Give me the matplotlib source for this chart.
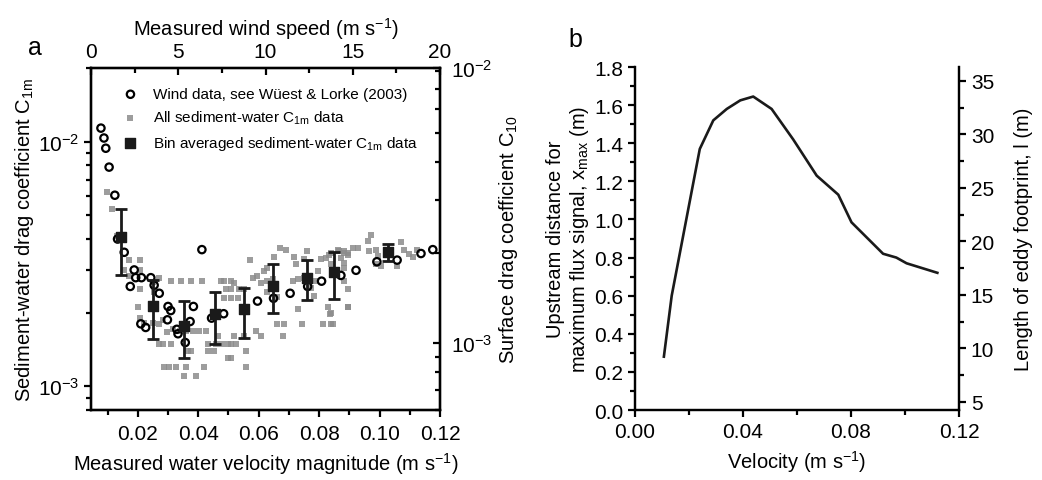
import matplotlib
matplotlib.use("Agg")
import matplotlib.pyplot as plt
from matplotlib.ticker import MultipleLocator, LogLocator, NullFormatter
import numpy as np

plt.rcParams['font.family'] = ['Liberation Sans', 'DejaVu Sans']
plt.rcParams['mathtext.default'] = 'regular'
plt.rcParams['axes.linewidth'] = 1.6

# ---- panel a: sediment-water drag coefficient data ----
# all sediment-water C1m data (velocity m/s, C1m)
all_v = [0.0097, 0.0113, 0.0131, 0.0171, 0.0208, 0.0155, 0.0171, 0.0208, 0.0208,
         0.0249, 0.0271, 0.0255, 0.0309, 0.0342, 0.0376, 0.0414,
         0.0201, 0.0208, 0.0221, 0.0249, 0.0271, 0.0282, 0.0271, 0.0282, 0.0309,
         0.0298, 0.0315, 0.0340, 0.0359, 0.0381, 0.0403, 0.0425,
         0.0365, 0.0376, 0.0431, 0.0453, 0.0287, 0.0304, 0.0326, 0.0359, 0.0420,
         0.0354, 0.0392, 0.0497, 0.0508, 0.0431, 0.0458, 0.0480, 0.0497, 0.0508, 0.0525,
         0.0464, 0.0519, 0.0552, 0.0475, 0.0486, 0.0508, 0.0519,
         0.0491, 0.0508, 0.0536, 0.0552, 0.0486, 0.0508, 0.0530,
         0.0580, 0.0596, 0.0618, 0.0629, 0.0572, 0.0591, 0.0607,
         0.0662, 0.0679, 0.0685, 0.0558, 0.0558, 0.0607, 0.0629, 0.0646,
         0.0671, 0.0690, 0.0649, 0.0629, 0.0662, 0.0712, 0.0729, 0.0751,
         0.0718, 0.0723, 0.0751, 0.0760, 0.0729, 0.0742,
         0.0773, 0.0782, 0.0790, 0.0795, 0.0806, 0.0823, 0.0834, 0.0839, 0.0867, 0.0883, 0.0894,
         0.0812, 0.0839, 0.0828, 0.0837, 0.0894,
         0.0839, 0.0861, 0.0872, 0.0883, 0.0894, 0.0883, 0.0883, 0.0883, 0.0894, 0.0894,
         0.0839, 0.0845, 0.0911, 0.0927, 0.0960, 0.0971, 0.0964, 0.0988, 0.0994,
         0.1005, 0.1058, 0.1071, 0.1082, 0.1098, 0.1109, 0.1124, 0.0988]
all_c = [6.2e-3, 5.3e-3, 4.1e-3, 3.28e-3, 3.28e-3, 3.0e-3, 2.82e-3, 3.0e-3, 2.51e-3,
         2.67e-3, 2.78e-3, 2.42e-3, 2.69e-3, 2.69e-3, 2.69e-3, 2.69e-3,
         2.10e-3, 1.91e-3, 1.82e-3, 1.82e-3, 1.80e-3, 1.86e-3, 1.49e-3, 1.49e-3, 1.49e-3,
         1.66e-3, 1.71e-3, 1.69e-3, 1.69e-3, 1.69e-3, 1.69e-3, 1.69e-3,
         1.40e-3, 1.40e-3, 1.40e-3, 1.40e-3, 1.20e-3, 1.20e-3, 1.20e-3, 1.20e-3, 1.20e-3,
         1.10e-3, 1.10e-3, 1.30e-3, 1.30e-3, 1.49e-3, 1.49e-3, 1.49e-3, 1.49e-3, 1.49e-3, 1.49e-3,
         1.61e-3, 1.61e-3, 1.61e-3, 2.69e-3, 2.69e-3, 2.69e-3, 2.65e-3,
         2.51e-3, 2.51e-3, 2.51e-3, 2.51e-3, 2.29e-3, 2.29e-3, 2.29e-3,
         2.78e-3, 2.82e-3, 2.96e-3, 3.05e-3, 3.28e-3, 1.69e-3, 1.61e-3,
         1.80e-3, 1.61e-3, 1.80e-3, 1.40e-3, 1.20e-3, 2.65e-3, 2.69e-3, 2.74e-3,
         3.67e-3, 3.60e-3, 3.38e-3, 2.42e-3, 2.31e-3, 2.69e-3, 2.74e-3, 2.78e-3,
         3.38e-3, 3.15e-3, 3.30e-3, 3.56e-3, 2.07e-3, 1.80e-3,
         2.53e-3, 2.34e-3, 2.69e-3, 2.96e-3, 3.30e-3, 3.35e-3, 3.45e-3, 3.15e-3, 3.56e-3, 3.51e-3, 3.45e-3,
         1.80e-3, 1.80e-3, 2.10e-3, 1.97e-3, 2.10e-3,
         3.51e-3, 3.62e-3, 3.35e-3, 3.56e-3, 3.51e-3, 3.20e-3, 3.05e-3, 2.69e-3, 2.49e-3, 2.10e-3,
         2.00e-3, 1.80e-3, 3.67e-3, 3.67e-3, 3.91e-3, 4.16e-3, 3.59e-3, 3.62e-3, 3.40e-3,
         3.10e-3, 3.10e-3, 3.88e-3, 3.60e-3, 3.48e-3, 3.38e-3, 3.60e-3, 3.15e-3]

# wind data (Wuest & Lorke 2003), shown in C1m / water velocity coordinates
wind_v = [0.0078, 0.0088, 0.0094, 0.0105, 0.0124, 0.0133, 0.0155, 0.0188, 0.0193, 0.0175,
          0.0212, 0.0243, 0.0254, 0.0271, 0.0300, 0.0309, 0.0210, 0.0226, 0.0298, 0.0329,
          0.0333, 0.0357, 0.0373, 0.0384, 0.0412, 0.0444, 0.0484, 0.0596, 0.0649, 0.0704,
          0.0762, 0.0808, 0.0872, 0.0922, 0.0991, 0.1058, 0.1137, 0.1176]
wind_c = [1.136e-2, 1.035e-2, 9.4e-3, 7.87e-3, 6.04e-3, 4.0e-3, 3.53e-3, 2.99e-3, 2.78e-3, 2.56e-3,
          2.78e-3, 2.78e-3, 2.59e-3, 2.40e-3, 2.12e-3, 2.04e-3, 1.80e-3, 1.74e-3, 1.87e-3, 1.71e-3,
          1.64e-3, 1.51e-3, 1.84e-3, 2.12e-3, 3.62e-3, 1.90e-3, 1.98e-3, 2.23e-3, 2.29e-3, 2.40e-3,
          2.56e-3, 2.69e-3, 2.84e-3, 2.98e-3, 3.23e-3, 3.28e-3, 3.49e-3, 3.62e-3]

# bin averaged C1m with error bar limits
bin_v = [0.0146, 0.0249, 0.0353, 0.0455, 0.0550, 0.0646, 0.0760, 0.0848, 0.1027]
bin_c = [4.06e-3, 2.13e-3, 1.77e-3, 1.98e-3, 2.07e-3, 2.56e-3, 2.76e-3, 2.93e-3, 3.53e-3]
bin_hi = [5.29e-3, 2.71e-3, 2.23e-3, 2.42e-3, 2.52e-3, 3.15e-3, 3.27e-3, 3.53e-3, 3.83e-3]
bin_lo = [2.84e-3, 1.56e-3, 1.30e-3, 1.49e-3, 1.57e-3, 1.99e-3, 2.25e-3, 2.28e-3, 3.24e-3]

# ---- panel b: footprint curve ----
vel = [0.0107, 0.0136, 0.019, 0.024, 0.029, 0.034, 0.039, 0.0438, 0.0506, 0.0586,
       0.0673, 0.0753, 0.0802, 0.0919, 0.0968, 0.1006, 0.112]
xmax = [0.28, 0.60, 1.00, 1.37, 1.52, 1.58, 1.625, 1.645, 1.58, 1.42,
        1.23, 1.13, 0.985, 0.82, 0.80, 0.77, 0.72]

TICK_FS = 15
LAB_FS = 14.5

fig = plt.figure(figsize=(10.42, 4.81), dpi=100)

# panel a
ax1 = fig.add_axes([0.0873, 0.1455, 0.335, 0.711])
ax1.scatter(all_v, all_c, marker='s', s=16, color='#8c8c8c', alpha=0.85, linewidths=0,
            zorder=2, label=r'All sediment-water C$_{1m}$ data')
ax1.scatter(wind_v, wind_c, marker='o', s=28, facecolors='none', edgecolors='black',
            linewidths=1.6, zorder=3, label='Wind data, see W\u00fcest & Lorke (2003)')
bin_c_arr = np.array(bin_c)
yerr = [bin_c_arr - np.array(bin_lo), np.array(bin_hi) - bin_c_arr]
ax1.errorbar(bin_v, bin_c, yerr=yerr, fmt='none', ecolor='#1a1a1a', elinewidth=2,
             capsize=4.5, capthick=2, zorder=4)
ax1.scatter(bin_v, bin_c, marker='s', s=55, color='#1a1a1a', zorder=5,
            label=r'Bin averaged sediment-water C$_{1m}$ data')
ax1.set_yscale('log')
ax1.set_xlim(0.0045, 0.12)
ax1.set_ylim(8e-4, 2e-2)
ax1.xaxis.set_minor_locator(MultipleLocator(0.01))
ax1.set_xticks([0.02, 0.04, 0.06, 0.08, 0.10, 0.12],
               ['0.02', '0.04', '0.06', '0.08', '0.10', '0.12'])
ax1.yaxis.set_minor_locator(LogLocator(base=10, subs=np.arange(2, 10)))
ax1.yaxis.set_minor_formatter(NullFormatter())
ax1.tick_params(which='both', direction='out', labelsize=TICK_FS, width=1.6, top=False, right=False)
ax1.tick_params(which='major', length=5)
ax1.tick_params(which='minor', length=3.5)
ax1.tick_params(axis='x', pad=5)
ax1.set_xlabel(r'Measured water velocity magnitude (m s$^{-1}$)', fontsize=LAB_FS, labelpad=5)
ax1.set_ylabel(r'Sediment-water drag coefficient C$_{1m}$', fontsize=LAB_FS, labelpad=1)

h, l = ax1.get_legend_handles_labels()
order = [1, 0, 2]
ax1.legend([h[i] for i in order], [l[i] for i in order], loc='upper left',
           bbox_to_anchor=(0.065, 0.975), frameon=False, fontsize=11,
           handletextpad=1.1, labelspacing=0.5, handlelength=0.8, borderaxespad=0.3)

# top axis: wind speed
ax1t = ax1.twiny()
ax1t.set_xlim(0, 20)
ax1t.xaxis.set_major_locator(MultipleLocator(5))
ax1t.xaxis.set_minor_locator(MultipleLocator(2.5))
ax1t.tick_params(which='both', direction='in', labelsize=TICK_FS, width=1.6, pad=5)
ax1t.tick_params(which='major', length=5)
ax1t.tick_params(which='minor', length=3.5)
ax1t.set_xlabel(r'Measured wind speed (m s$^{-1}$)', fontsize=LAB_FS, labelpad=5)

# right axis: surface drag coefficient
ax1r = ax1.twinx()
ax1r.set_yscale('log')
ax1r.set_ylim(6e-4, 8.2e-3)
ax1r.set_yticks([1e-3, 8.2e-3], [r'$10^{-3}$', r'$10^{-2}$'])
ax1r.yaxis.set_minor_locator(LogLocator(base=10, subs=np.arange(2, 10)))
ax1r.yaxis.set_minor_formatter(NullFormatter())
ax1r.tick_params(which='both', direction='in', labelsize=TICK_FS, width=1.6, pad=8)
ax1r.tick_params(which='major', length=5)
ax1r.tick_params(which='minor', length=3.5)
ax1r.set_ylabel(r'Surface drag coefficient C$_{10}$', fontsize=LAB_FS, labelpad=3)

fig.text(0.027, 0.885, 'a', fontsize=18)

# panel b
ax2 = fig.add_axes([0.6094, 0.1455, 0.3109, 0.7131])
ax2.plot(vel, xmax, color='#1a1a1a', lw=1.9)
ax2.set_xlim(0, 0.12)
ax2.set_ylim(0, 1.8)
ax2.set_xticks([0, 0.04, 0.08, 0.12], ['0.00', '0.04', '0.08', '0.12'])
ax2.xaxis.set_minor_locator(MultipleLocator(0.02))
ax2.yaxis.set_major_locator(MultipleLocator(0.2))
ax2.yaxis.set_minor_locator(MultipleLocator(0.1))
ax2.yaxis.set_major_formatter(plt.FormatStrFormatter('%.1f'))
ax2.tick_params(which='both', direction='out', labelsize=TICK_FS, width=1.6, top=False)
ax2.tick_params(which='major', length=5)
ax2.tick_params(which='minor', length=3.5)
ax2.set_xlabel(r'Velocity (m s$^{-1}$)', fontsize=LAB_FS, labelpad=5)
ax2.set_ylabel('Upstream distance for\nmaximum flux signal, x$_{max}$ (m)', fontsize=LAB_FS,
               labelpad=2, linespacing=1.2)

ax2r = ax2.twinx()
ax2r.set_ylim(4.25, 36.3)
ax2r.yaxis.set_major_locator(MultipleLocator(5))
ax2r.yaxis.set_minor_locator(MultipleLocator(2.5))
ax2r.tick_params(which='both', direction='out', labelsize=TICK_FS, width=1.6)
ax2r.tick_params(which='major', length=5)
ax2r.tick_params(which='minor', length=3.5)
ax2r.set_ylabel('Length of eddy footprint, l (m)', fontsize=LAB_FS, labelpad=14)
ax2.spines['top'].set_visible(False)
ax2r.spines['top'].set_visible(False)

fig.text(0.546, 0.902, 'b', fontsize=18)

fig.savefig('out.png', dpi=100)
